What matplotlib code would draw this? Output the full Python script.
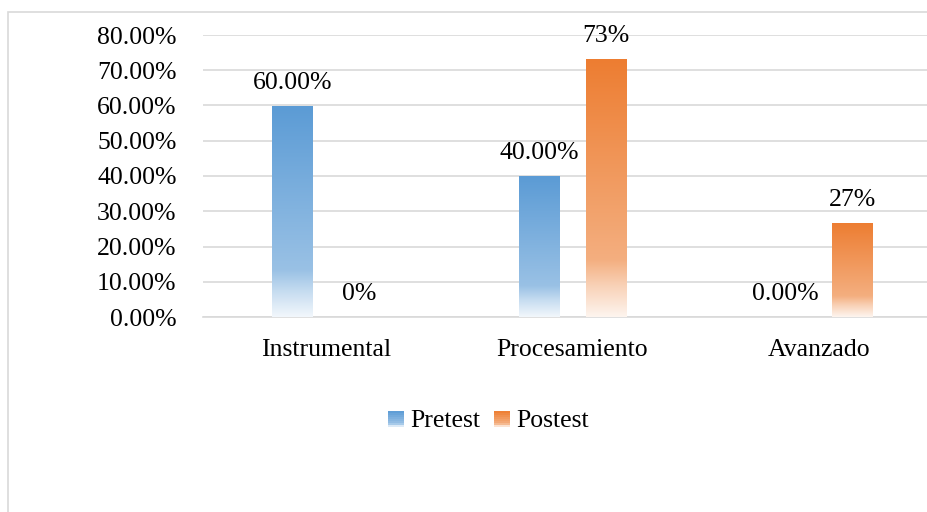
import numpy as np
import matplotlib.pyplot as plt
from matplotlib.colors import LinearSegmentedColormap, to_rgb
from matplotlib.patches import Rectangle
from matplotlib.legend_handler import HandlerBase
from matplotlib.ticker import FuncFormatter

plt.rcParams['font.family'] = ['Liberation Serif', 'DejaVu Serif']

categorias = ['Instrumental', 'Procesamiento', 'Avanzado']
pretest = [60.0, 40.0, 0.0]
postest = [0.0, 73.33, 26.67]
pretest_labels = ['60.00%', '40.00%', '0.00%']
postest_labels = ['0%', '73%', '27%']

azul = '#5B9BD5'
naranja = '#ED7D31'
fs = 18.5


def cmap_bar(color):
    # color arriba, casi blanco abajo (como el degradado de Excel)
    c = np.array(to_rgb(color))
    w = np.ones(3)
    stops = [
        (0.0, tuple(0.08 * c + 0.92 * w)),
        (0.12, tuple(0.35 * c + 0.65 * w)),
        (0.22, tuple(0.62 * c + 0.38 * w)),
        (1.0, tuple(c)),
    ]
    return LinearSegmentedColormap.from_list('g', stops)


fig = plt.figure(figsize=(9.28, 5.12), dpi=100)
ax = fig.add_axes([203 / 928, 195 / 512, (942 - 203) / 928, 282 / 512])

x = np.arange(len(categorias))
w = 0.164
off = 0.136

grad = np.linspace(0, 1, 256).reshape(-1, 1)
for vals, labels, dx, col in [(pretest, pretest_labels, -off, azul),
                              (postest, postest_labels, off, naranja)]:
    bars = ax.bar(x + dx, vals, w, color='none', edgecolor='none', zorder=3)
    cm = cmap_bar(col)
    for b, lab in zip(bars, labels):
        h = b.get_height()
        if h > 0:
            x0 = b.get_x()
            im = ax.imshow(grad, cmap=cm, origin='lower', aspect='auto',
                           extent=[x0, x0 + b.get_width(), 0, h], zorder=3)
            im.set_clip_path(b)
        ax.annotate(lab, (b.get_x() + b.get_width() / 2, h),
                    xytext=(0, 8.3), textcoords='offset points',
                    ha='center', va='bottom', fontsize=fs, color='#000000')

ax.set_xlim(-0.5, 2.5)
ax.set_ylim(0, 80)
ax.set_yticks(np.arange(0, 81, 10))
ax.yaxis.set_major_formatter(FuncFormatter(lambda v, p: f'{v:.2f}%'))
ax.set_xticks(x)
ax.set_xticklabels(categorias)
ax.tick_params(axis='both', length=0, labelsize=fs, colors='#000000')
ax.tick_params(axis='y', pad=19)
ax.tick_params(axis='x', pad=16)
ax.grid(axis='y', color='#D9D9D9', linewidth=1.2, zorder=0)
ax.set_axisbelow(True)
for s in ['top', 'right', 'left']:
    ax.spines[s].set_visible(False)
ax.spines['bottom'].set_color('#D9D9D9')
ax.spines['bottom'].set_linewidth(1.2)


class HandlerGrad(HandlerBase):
    def __init__(self, color):
        super().__init__()
        self.color = color

    def create_artists(self, legend, orig_handle, xdescent, ydescent,
                       width, height, fontsize, trans):
        cm = cmap_bar(self.color)
        n = 8
        arts = []
        s = height * 0.9
        x0 = width - s
        for i in range(n):
            r = Rectangle((x0 - xdescent, -ydescent + s * i / n), s, s / n,
                          facecolor=cm((i + 0.5) / n), edgecolor='none',
                          transform=trans)
            arts.append(r)
        return arts


h1 = Rectangle((0, 0), 1, 1)
h2 = Rectangle((0, 0), 1, 1)
fig.legend([h1, h2], ['Pretest', 'Postest'],
           handler_map={h1: HandlerGrad(azul), h2: HandlerGrad(naranja)},
           loc='center', bbox_to_anchor=(488 / 928, 1 - 421 / 512),
           ncol=2, frameon=False, fontsize=fs, handlelength=0.65,
           handletextpad=0.25, columnspacing=0.5)

# borde del área del gráfico
fig.patches.append(Rectangle((8 / 928, -0.1), 1.0, 1 - 12 / 512 + 0.1,
                             transform=fig.transFigure, facecolor='none',
                             edgecolor='#D9D9D9', linewidth=1.2, zorder=0))

fig.savefig('out.png', dpi=100)
